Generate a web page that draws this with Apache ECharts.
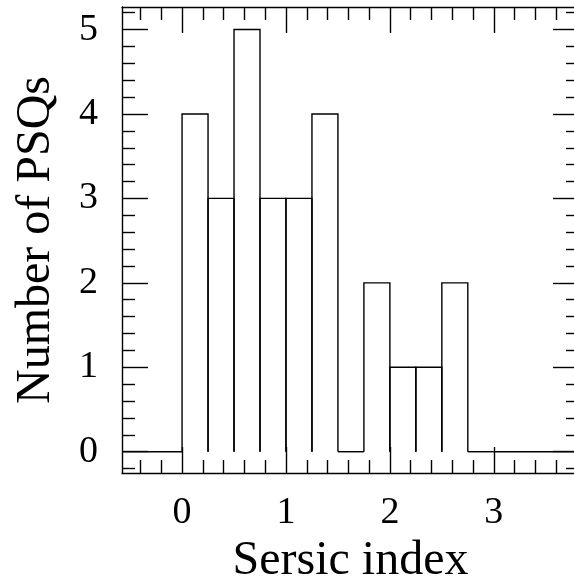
<!DOCTYPE html>
<html>
<head>
<meta charset="utf-8">
<script src="https://cdn.jsdelivr.net/npm/echarts@6/dist/echarts.min.js"></script>
<style>html,body{margin:0;padding:0;background:#fff}#c{width:574px;height:584px}</style>
</head>
<body>
<div id="c"></div>
<script>
// Data
const BIN_LEFT = [0, 0.25, 0.5, 0.75, 1.0, 1.25, 1.5, 1.75, 2.0, 2.25, 2.5, 2.75];
const BIN_WIDTH = 0.25;
const COUNTS = [4, 3, 5, 3, 3, 4, 0, 2, 1, 1, 2, 0];
const X_MAJOR = [0, 1, 2, 3];
const X_MINOR = [-0.4, -0.2, 0.2, 0.4, 0.6, 0.8, 1.2, 1.4, 1.6, 1.8, 2.2, 2.4, 2.6, 2.8, 3.2, 3.4, 3.6];
const Y_MAJOR = [0, 1, 2, 3, 4, 5];
const Y_MINOR = [-0.2, 0.2, 0.4, 0.6, 0.8, 1.2, 1.4, 1.6, 1.8, 2.2, 2.4, 2.6, 2.8, 3.2, 3.4, 3.6, 3.8, 4.2, 4.4, 4.6, 4.8, 5.2];
const X_MIN = -0.578, X_MAX = 3.82;
const Y_MIN = -0.252, Y_MAX = 5.267;

const FONT = 'Liberation Serif';
const LINE = {color: '#000', width: 1.4};

function xAxis(pos, ticks, len, showLine, labels) {
  return {
    type: 'value', position: pos, min: X_MIN, max: X_MAX,
    axisLine: {show: showLine, onZero: false, lineStyle: LINE},
    axisTick: {show: true, inside: true, length: len, customValues: ticks, lineStyle: LINE},
    axisLabel: labels ? {show: true, customValues: X_MAJOR, fontFamily: FONT, fontSize: 38, color: '#000', margin: 21} : {show: false},
    splitLine: {show: false}
  };
}
function yAxis(pos, ticks, len, showLine, labels) {
  return {
    type: 'value', position: pos, min: Y_MIN, max: Y_MAX,
    axisLine: {show: showLine, onZero: false, lineStyle: LINE},
    axisTick: {show: true, inside: true, length: len, customValues: ticks, lineStyle: LINE},
    axisLabel: labels ? {show: true, customValues: Y_MAJOR, fontFamily: FONT, fontSize: 38, color: '#000', margin: 24} : {show: false},
    splitLine: {show: false}
  };
}

const xs = [xAxis('bottom', X_MAJOR, 26, true, true), xAxis('bottom', X_MINOR, 13, false, false),
            xAxis('top', X_MAJOR, 26, true, false), xAxis('top', X_MINOR, 13, false, false)];
xs[0].name = 'Sersic index';
xs[0].nameLocation = 'middle';
xs[0].nameGap = 62;
xs[0].nameTextStyle = {fontFamily: FONT, fontSize: 48, color: '#000'};
const ys = [yAxis('left', Y_MAJOR, 26, true, true), yAxis('left', Y_MINOR, 13, false, false),
            yAxis('right', Y_MAJOR, 26, true, false), yAxis('right', Y_MINOR, 13, false, false)];
ys[0].name = 'Number of PSQs';
ys[0].nameLocation = 'middle';
ys[0].nameGap = 62;
ys[0].nameTextStyle = {fontFamily: FONT, fontSize: 48, color: '#000'};

const binData = BIN_LEFT.map((x, i) => [x, x + BIN_WIDTH, COUNTS[i]]);

const chart = echarts.init(document.getElementById('c'), null, {renderer: 'canvas'});
chart.setOption({
  animation: false,
  grid: {left: 122, top: 7, width: 457, height: 466, containLabel: false, outerBoundsMode: 'none'},
  xAxis: xs,
  yAxis: ys,
  series: [
    {
      type: 'custom', xAxisIndex: 0, yAxisIndex: 0, data: binData,
      renderItem: function (params, api) {
        const x0 = api.value(0), x1 = api.value(1), v = api.value(2);
        const pts = [api.coord([x0, 0]), api.coord([x0, v]), api.coord([x1, v]), api.coord([x1, 0])];
        return {type: 'polyline', shape: {points: pts}, style: {stroke: '#000', lineWidth: 1.4, fill: null}};
      }
    },
    {
      type: 'line', xAxisIndex: 0, yAxisIndex: 0, symbol: 'none',
      lineStyle: {color: '#000', width: 1.4},
      data: [[X_MIN, 0], [BIN_LEFT[0], 0]]
    },
    {
      type: 'line', xAxisIndex: 0, yAxisIndex: 0, symbol: 'none',
      lineStyle: {color: '#000', width: 1.4},
      data: [[BIN_LEFT[BIN_LEFT.length - 1] + BIN_WIDTH, 0], [X_MAX, 0]]
    }
  ]
});
</script>
</body>
</html>
